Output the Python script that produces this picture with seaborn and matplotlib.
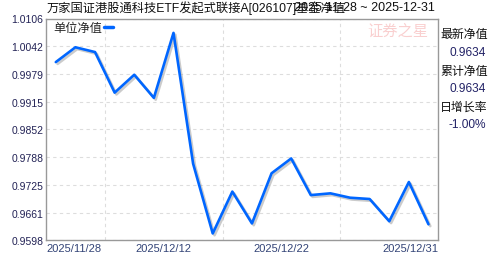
import matplotlib
matplotlib.use("Agg")
import matplotlib.pyplot as plt
import matplotlib.patheffects as pe
import seaborn as sns
import pandas as pd
import numpy as np

# ---- data ----
dates = ["2025-11-28", "2025-12-01", "2025-12-03", "2025-12-05", "2025-12-09",
         "2025-12-11", "2025-12-12", "2025-12-15", "2025-12-16", "2025-12-17",
         "2025-12-18", "2025-12-19", "2025-12-22", "2025-12-23", "2025-12-24",
         "2025-12-25", "2025-12-26", "2025-12-29", "2025-12-30", "2025-12-31"]
nav = [1.0006, 1.0040, 1.0029, 0.9936, 0.9977, 0.9924, 1.0073, 0.9773, 0.9613, 0.9709,
       0.9636, 0.9751, 0.9785, 0.9701, 0.9705, 0.9695, 0.9692, 0.9641, 0.9731, 0.9634]
ytick_labels = ["0.9598", "0.9661", "0.9725", "0.9788", "0.9852",
                "0.9915", "0.9979", "1.0042", "1.0106"]
xtick_dates = ["2025-11-28", "2025-12-12", "2025-12-22", "2025-12-31"]
series_name = "单位净值"
title_left = "万家国证港股通科技ETF发起式联接A[026107]基金净值"
title_right = "2025-11-28 ~ 2025-12-31"
panel_labels = ["最新净值", "累计净值", "日增长率"]
panel_values = ["0.9634", "0.9634", "-1.00%"]
watermark = "证券之星"

sns.set_style("white")
FAM = ["Liberation Sans", "Noto Sans CJK SC", "DejaVu Sans"]
plt.rcParams["font.family"] = FAM

df = pd.DataFrame({"idx": np.arange(len(dates)), "nav": nav, "date": dates})

fig = plt.figure(figsize=(4.88, 2.55), dpi=100)
ax = fig.add_axes([46 / 488, 1 - 241 / 255, (438.3 - 46) / 488, (241 - 19.5) / 255])

sns.lineplot(data=df, x="idx", y="nav", ax=ax, color="#0066ff", linewidth=1.9,
             label=series_name,
             path_effects=[pe.SimpleLineShadow(offset=(1.3, -1.3), shadow_color="#999999", alpha=0.5),
                           pe.Normal()])

n = len(dates)
ax.set_xlim(-0.5, n - 0.5)
yvals = [float(v) for v in ytick_labels]
ax.set_ylim(yvals[0], yvals[-1])
ax.set_yticks(yvals)
ax.set_yticklabels(ytick_labels, fontsize=7.5, color="#222255")

# x ticks
xpos = []
for d in xtick_dates:
    i = dates.index(d)
    if i == 0:
        xpos.append(-0.5)
    elif i == n - 1:
        xpos.append(n - 0.5)
    else:
        xpos.append(i - 0.5)
ax.set_xticks(xpos)
ax.set_xticklabels([d.replace("-", "/") for d in xtick_dates], fontsize=8, color="#334477")
labs = ax.get_xticklabels()
labs[0].set_ha("left")
labs[-1].set_ha("right")
ax.set_xticks(np.arange(2.5, n - 4, 3), minor=True)

ax.tick_params(axis="both", which="both", length=0)
ax.tick_params(axis="x", pad=2.5)
ax.tick_params(axis="y", pad=2)
ax.set_xlabel("")
ax.set_ylabel("")

ax.grid(False)
ax.xaxis.grid(True, which="minor", color="#dddddd", linestyle=(0, (3, 3)), linewidth=0.8)
ax.yaxis.grid(True, which="major", color="#dddddd", linestyle=(0, (3, 3)), linewidth=0.8)
ax.set_axisbelow(True)
for s in ax.spines.values():
    s.set_color("#999999")
    s.set_linewidth(1.0)

leg = ax.legend(loc="upper left", bbox_to_anchor=(-0.003, 1.022), frameon=False,
                markerfirst=False, handlelength=0.7, handletextpad=0.15,
                borderaxespad=0.3, prop={"family": FAM, "size": 8.8})
for h in leg.get_lines():
    h.set_linewidth(2.5)
    h.set_path_effects([])

# watermark
fig.text(398 / 488, 1 - 32 / 255, watermark, fontsize=11, color="#f9caca",
         ha="center", va="center", family=FAM, style="italic", alpha=0.9)

# title
fig.text(47 / 488, 1 - 8 / 255, title_left, fontsize=8.8, color="#111111", ha="left", va="center")
fig.text(435 / 488, 1 - 8 / 255, title_right, fontsize=9, color="#111111", ha="right", va="center")

# right panel
ys_lab = [35, 71.7, 107.3]
ys_val = [53.3, 89.3, 125]
for lab, val, yl, yv in zip(panel_labels, panel_values, ys_lab, ys_val):
    fig.text(440 / 488, 1 - yl / 255, lab, fontsize=8.6, color="#111111", ha="left", va="center")
    fig.text(486 / 488, 1 - yv / 255, val, fontsize=8.6, color="#222266", ha="right", va="center")

fig.savefig("out.png", dpi=100)
